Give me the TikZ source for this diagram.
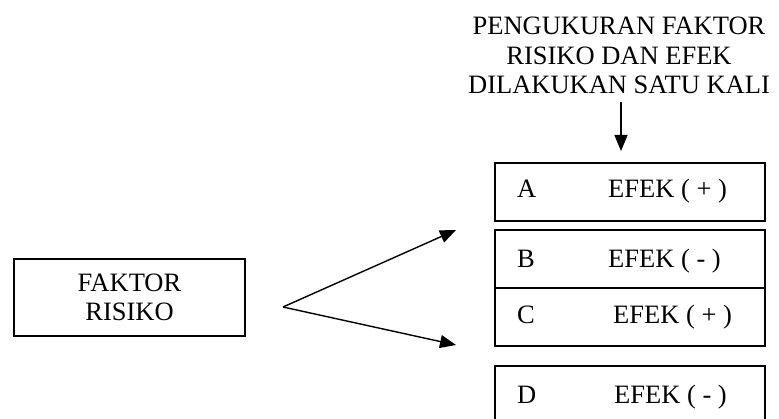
\documentclass[tikz,border=0pt]{standalone}
\usepackage{fontspec}
\setmainfont{Liberation Serif}
\usetikzlibrary{arrows.meta}
\begin{document}
\begin{tikzpicture}[x=1pt,y=-1pt,
  every node/.style={font=\fontsize{26.5}{29.5}\selectfont},
  frame/.style={draw,line width=1.6pt,minimum width=270pt,inner sep=0pt,anchor=north west},
  lbl/.style={anchor=base west,inner sep=0pt},
  conn/.style={line width=1.4pt,-{Triangle[length=16pt,width=13pt]}}]
  \useasboundingbox (0,0) rectangle (779,419);
  \clip (0,0) rectangle (779,419);

  % heading and the downward arrow
  \node[align=center,inner sep=0pt,anchor=north] (head) at (619,17)
    {PENGUKURAN FAKTOR\\RISIKO DAN EFEK\\DILAKUKAN SATU KALI};
  \coordinate (dtop) at (621,102);
  \coordinate (dtip) at (621,151);
  \draw[conn] (dtop) -- (dtip);

  % risk factor box
  \node[draw,line width=1.6pt,minimum width=231pt,minimum height=77pt,align=center,inner sep=0pt]
    (risk) at (129.5,297.5) {FAKTOR\\RISIKO};

  % outcome boxes
  \node[frame,minimum height=58pt] (boxA) at (494,162) {};
  \node[frame,minimum height=58pt] (boxB) at (494,229) {};
  \node[frame,minimum height=58pt] (boxC) at (494,287) {};
  \node[frame,minimum height=80pt] (boxD) at (494,365) {};

  \node[lbl] (la) at (517,197.5) {A};
  \node[lbl] (ea) at (608,197.5) {EFEK ( + )};
  \node[lbl] (lb) at (517,267.5) {B};
  \node[lbl] (eb) at (608,267.5) {EFEK ( - )};
  \node[lbl] (lc) at (517,323.3) {C};
  \node[lbl] (ec) at (613,323.3) {EFEK ( + )};
  \node[lbl] (ld) at (517,403.3) {D};
  \node[lbl] (ed) at (614,403.3) {EFEK ( - )};

  % branching arrows
  \coordinate (fork) at (283,307);
  \coordinate (tipup) at (456,230);
  \coordinate (tipdown) at (456,345);
  \draw[conn] (fork) -- (tipup);
  \draw[conn] (fork) -- (tipdown);
\end{tikzpicture}
\end{document}
